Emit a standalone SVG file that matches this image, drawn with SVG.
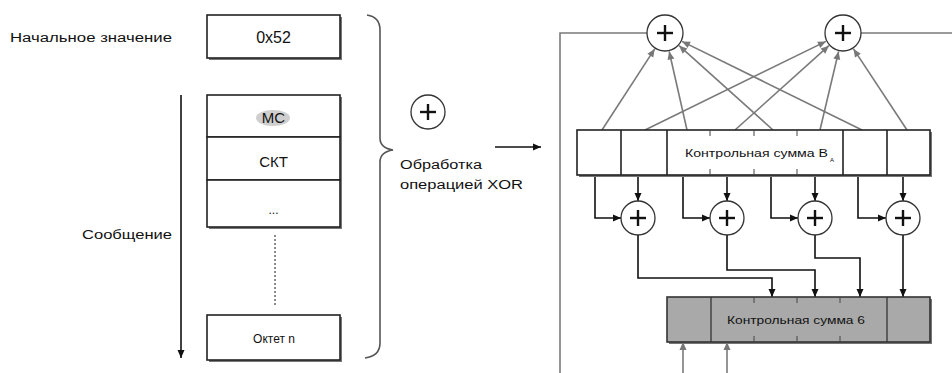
<svg xmlns="http://www.w3.org/2000/svg" width="952" height="373" viewBox="0 0 952 373">
<style>
text{font-family:"Liberation Sans",Arial,sans-serif;fill:#111}
.box{fill:#fff;stroke:#222;stroke-width:1.6}
.shadow{fill:#777}
.xor{fill:#fff;stroke:#333;stroke-width:1.3}
.plus{stroke:#111;stroke-width:2.4}
.blk{fill:none;stroke:#111;stroke-width:1.6}
.gry{fill:none;stroke:#7a7a7a;stroke-width:1.6}
.tick{stroke:#444;stroke-width:1}
</style>
<defs>
<marker id="ab" markerWidth="10" markerHeight="10" refX="9" refY="5" orient="auto" markerUnits="userSpaceOnUse"><path d="M1,1.5 L9,5 L1,8.5 Z" fill="#111"/></marker>
<marker id="ag" markerWidth="10" markerHeight="10" refX="9" refY="5" orient="auto" markerUnits="userSpaceOnUse"><path d="M1,1.5 L9,5 L1,8.5 Z" fill="#777"/></marker>
</defs>
<rect width="952" height="373" fill="#fff"/>

<g id="label-initial"><text x="10" y="42" font-size="12" textLength="162" lengthAdjust="spacingAndGlyphs">Начальное значение</text></g>
<g id="box-0x52"><rect class="shadow" x="209" y="17" width="133" height="43"/><rect class="box" x="207" y="15" width="133" height="43"/><text x="273.5" y="43" font-size="16" text-anchor="middle">0x52</text></g>

<g id="message-stack">
<rect class="shadow" x="209" y="97" width="133" height="132"/>
<rect class="box" x="207" y="95" width="133" height="42"/>
<ellipse cx="273" cy="118" rx="17" ry="8" fill="#cfcfcf"/>
<text x="273.5" y="123" font-size="15" text-anchor="middle">MC</text>
<rect class="box" x="207" y="137" width="133" height="43"/>
<text x="273.5" y="167" font-size="15" text-anchor="middle">СКТ</text>
<rect class="box" x="207" y="180" width="133" height="47"/>
<text x="273.5" y="214" font-size="12" text-anchor="middle">...</text>
<line x1="275" y1="235" x2="275" y2="307" stroke="#666" stroke-width="1.5" stroke-dasharray="2,2"/>
<rect class="shadow" x="209" y="317" width="133" height="45"/>
<rect class="box" x="207" y="315" width="133" height="45"/>
<text x="274" y="343" font-size="12" text-anchor="middle">Октет n</text>
</g>

<g id="label-message">
<line class="blk" x1="181" y1="95" x2="181" y2="358" marker-end="url(#ab)"/>
<text x="82" y="239" font-size="12" textLength="90" lengthAdjust="spacingAndGlyphs">Сообщение</text>
</g>

<g id="brace"><path d="M367,15 Q380,17 380,30 L380,138 Q380,148 393,150 Q380,152 380,162 L380,343 Q380,356 365,358" fill="none" stroke="#555" stroke-width="1.6"/></g>

<g id="legend-xor">
<circle class="xor" cx="428" cy="112" r="17"/>
<line class="plus" x1="420" y1="112" x2="436" y2="112" stroke-width="1.6"/><line class="plus" x1="428" y1="104" x2="428" y2="120" stroke-width="1.6"/>
<text x="400" y="169" font-size="12" textLength="82" lengthAdjust="spacingAndGlyphs">Обработка</text>
<text x="400" y="189" font-size="12" textLength="123" lengthAdjust="spacingAndGlyphs">операцией XOR</text>
<line class="blk" x1="495" y1="147" x2="541" y2="147" marker-end="url(#ab)"/>
</g>

<g id="connectors">
<path class="gry" d="M647,33 H560 V373"/>
<path class="gry" d="M861,33 H952"/>
<line class="gry" x1="602" y1="130" x2="654.7" y2="48.9" marker-end="url(#ag)"/>
<line class="gry" x1="645" y1="130" x2="825.9" y2="41.4" marker-end="url(#ag)"/>
<line class="gry" x1="687" y1="130" x2="669.2" y2="51.5" marker-end="url(#ag)"/>
<line class="gry" x1="735" y1="130" x2="828.9" y2="45.7" marker-end="url(#ag)"/>
<line class="gry" x1="773" y1="130" x2="679.1" y2="45.7" marker-end="url(#ag)"/>
<line class="gry" x1="820" y1="130" x2="838.6" y2="51.5" marker-end="url(#ag)"/>
<line class="gry" x1="862" y1="130" x2="682.0" y2="41.4" marker-end="url(#ag)"/>
<line class="gry" x1="907" y1="130" x2="853.5" y2="48.9" marker-end="url(#ag)"/>
<path class="blk" d="M595,175 V218 H621" marker-end="url(#ab)"/>
<path class="blk" d="M638,175 V201" marker-end="url(#ab)"/>
<path class="blk" d="M683,175 V218 H710" marker-end="url(#ab)"/>
<path class="blk" d="M727,175 V201" marker-end="url(#ab)"/>
<path class="blk" d="M771,175 V218 H798" marker-end="url(#ab)"/>
<path class="blk" d="M815,175 V201" marker-end="url(#ab)"/>
<path class="blk" d="M858,175 V218 H886" marker-end="url(#ab)"/>
<path class="blk" d="M903,175 V201" marker-end="url(#ab)"/>
<path class="blk" d="M638,235 V278 H772 V297" marker-end="url(#ab)"/>
<path class="blk" d="M727,235 V270 H815 V297" marker-end="url(#ab)"/>
<path class="blk" d="M815,235 V258 H860 V297" marker-end="url(#ab)"/>
<path class="blk" d="M903,235 V297" marker-end="url(#ab)"/>
<line class="gry" x1="683" y1="373" x2="683" y2="342" marker-end="url(#ag)"/>
<line class="gry" x1="727" y1="373" x2="727" y2="342" marker-end="url(#ag)"/>
</g>

<g id="register-upper">
<rect class="shadow" x="579" y="132" width="353" height="45"/>
<rect class="box" x="577" y="130" width="353" height="45"/>
<line class="box" x1="621" y1="130" x2="621" y2="175"/>
<line class="box" x1="667" y1="130" x2="667" y2="175"/>
<line class="box" x1="843" y1="130" x2="843" y2="175"/>
<line class="box" x1="887" y1="130" x2="887" y2="175"/>
<line class="tick" x1="710" y1="130" x2="710" y2="136"/><line class="tick" x1="754" y1="130" x2="754" y2="136"/><line class="tick" x1="797" y1="130" x2="797" y2="136"/>
<line class="tick" x1="710" y1="169" x2="710" y2="175"/><line class="tick" x1="754" y1="169" x2="754" y2="175"/><line class="tick" x1="797" y1="169" x2="797" y2="175"/>
<text x="685" y="157" font-size="11" textLength="143" lengthAdjust="spacingAndGlyphs">Контрольная сумма В</text>
<text x="830" y="162" font-size="6">A</text>
</g>

<g id="register-lower">
<rect class="shadow" x="669" y="299" width="263" height="45"/>
<rect x="667" y="297" width="263" height="45" fill="#a9a9a9" stroke="#333" stroke-width="1.6"/>
<line x1="711" y1="297" x2="711" y2="342" stroke="#333" stroke-width="1.3"/>
<line x1="887" y1="297" x2="887" y2="342" stroke="#333" stroke-width="1.3"/>
<line class="tick" x1="754" y1="297" x2="754" y2="303"/><line class="tick" x1="797" y1="297" x2="797" y2="303"/><line class="tick" x1="840" y1="297" x2="840" y2="303"/>
<line class="tick" x1="754" y1="336" x2="754" y2="342"/><line class="tick" x1="797" y1="336" x2="797" y2="342"/><line class="tick" x1="840" y1="336" x2="840" y2="342"/>
<text x="727" y="324" font-size="11" textLength="138" lengthAdjust="spacingAndGlyphs">Контрольная сумма 6</text>
</g>

<g id="xor-top-1"><circle class="xor" cx="665" cy="33" r="18"/><line class="plus" x1="657" y1="33" x2="673" y2="33"/><line class="plus" x1="665" y1="25" x2="665" y2="41"/></g>
<g id="xor-top-2"><circle class="xor" cx="843" cy="33" r="18"/><line class="plus" x1="835" y1="33" x2="851" y2="33"/><line class="plus" x1="843" y1="25" x2="843" y2="41"/></g>
<g id="xor-1"><circle class="xor" cx="638" cy="218" r="17"/><line class="plus" x1="630" y1="218" x2="646" y2="218"/><line class="plus" x1="638" y1="210" x2="638" y2="226"/></g>
<g id="xor-2"><circle class="xor" cx="727" cy="218" r="17"/><line class="plus" x1="719" y1="218" x2="735" y2="218"/><line class="plus" x1="727" y1="210" x2="727" y2="226"/></g>
<g id="xor-3"><circle class="xor" cx="815" cy="218" r="17"/><line class="plus" x1="807" y1="218" x2="823" y2="218"/><line class="plus" x1="815" y1="210" x2="815" y2="226"/></g>
<g id="xor-4"><circle class="xor" cx="903" cy="218" r="17"/><line class="plus" x1="895" y1="218" x2="911" y2="218"/><line class="plus" x1="903" y1="210" x2="903" y2="226"/></g>
</svg>
